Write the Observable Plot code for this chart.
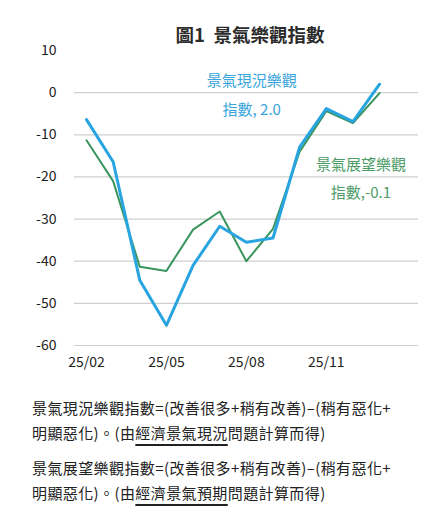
<!DOCTYPE html>
<html>
<head>
<meta charset="utf-8">
<script src="https://cdn.jsdelivr.net/npm/d3@7"></script>
<script src="https://cdn.jsdelivr.net/npm/@observablehq/plot@0.6"></script>
<style>
  html, body { margin: 0; padding: 0; background: #fff; }
  body { width: 444px; height: 522px; position: relative; overflow: hidden;
         font-family: "Noto Sans CJK TC", "Noto Sans", sans-serif; }
  #title { position: absolute; left: 56px; right: 0; top: 20px; text-align: center;
           font-size: 18.5px; font-weight: bold; color: #2b2b2b; line-height: 28px; }
  #chart { position: absolute; left: 0; top: 0; }
  #caption { position: absolute; left: 32px; top: 395px; width: 410px; font-size: 15px;
             color: #222; line-height: 25px; letter-spacing: 0.4px; white-space: nowrap; }
  #caption p { margin: 0 0 10px 0; }
  #caption .ul { text-decoration: underline; text-decoration-thickness: 1.5px; text-underline-offset: 5px; }
</style>
</head>
<body>
<div id="chart"></div>
<div id="title">圖1&nbsp; 景氣樂觀指數</div>
<div id="caption">
  <p>景氣現況樂觀指數=(改善很多+稍有改善)–(稍有惡化+<br>明顯惡化)。(由<span class="ul">經濟景氣現況</span>問題計算而得)</p>
  <p>景氣展望樂觀指數=(改善很多+稍有改善)–(稍有惡化+<br>明顯惡化)。(由<span class="ul">經濟景氣預期</span>問題計算而得)</p>
</div>
<script>
const months = ["25/02","25/03","25/04","25/05","25/06","25/07","25/08","25/09","25/10","25/11","25/12","26/01"];
const currentIndex = [-6.4, -16.4, -44.5, -55.2, -41.0, -31.7, -35.5, -34.5, -12.9, -3.8, -6.9, 2.0];
const outlookIndex = [-11.3, -21.0, -41.3, -42.3, -32.5, -28.2, -40.0, -32.3, -14.0, -4.4, -7.2, -0.1];
const yTicks = [10, 0, -10, -20, -30, -40, -50, -60];
const gridValues = [0, -10, -20, -30, -40, -50, -60];
const xTickLabels = ["25/02", "25/05", "25/08", "25/11"];
const labelCurrent = ["景氣現況樂觀", "指數, 2.0"];
const labelOutlook = ["景氣展望樂觀", "指數,-0.1"];

const blue = "#28a4e0";
const green = "#3a955c";

const current = months.map((m, i) => ({i, m, v: currentIndex[i]}));
const outlook = months.map((m, i) => ({i, m, v: outlookIndex[i]}));
const xTicks = xTickLabels.map(l => months.indexOf(l));

const plot = Plot.plot({
  width: 444,
  height: 380,
  marginLeft: 74,
  marginRight: 26,
  marginTop: 50,
  marginBottom: 35,
  style: {fontFamily: "'Noto Sans CJK TC', 'Noto Sans', sans-serif", fontSize: "14px", color: "#222", background: "transparent"},
  x: {domain: [-0.45, 12.46], ticks: xTicks, tickFormat: i => months[i], tickSize: 0, tickPadding: 12, label: null},
  y: {domain: [-60, 10], ticks: yTicks, tickFormat: d => String(d), tickSize: 0, tickPadding: 18, label: null},
  marks: [
    Plot.ruleY(gridValues, {stroke: "#cfcfcf", strokeWidth: 1.2}),
    Plot.axisX({ticks: xTicks, tickFormat: i => months[i], tickSize: 0, tickPadding: 12, fontSize: 14, fill: "#222"}),
    Plot.axisY({ticks: yTicks, tickFormat: d => String(d), tickSize: 0, tickPadding: 18, fontSize: 14, fill: "#222"}),
    Plot.line(outlook, {x: "i", y: "v", stroke: green, strokeWidth: 2}),
    Plot.line(current, {x: "i", y: "v", stroke: blue, strokeWidth: 3}),
    Plot.text([labelCurrent[0]], {x: [6.2], y: [2.6], text: d => d, fill: "#3aa5dc", fontSize: 15}),
    Plot.text([labelCurrent[1]], {x: [6.2], y: [-4.2], text: d => d, fill: "#3aa5dc", fontSize: 15}),
    Plot.text([labelOutlook[0]], {x: [10.3], y: [-17.2], text: d => d, fill: "#4d9c68", fontSize: 15}),
    Plot.text([labelOutlook[1]], {x: [10.3], y: [-23.8], text: d => d, fill: "#4d9c68", fontSize: 15})
  ]
});
document.getElementById("chart").appendChild(plot);
</script>
</body>
</html>
